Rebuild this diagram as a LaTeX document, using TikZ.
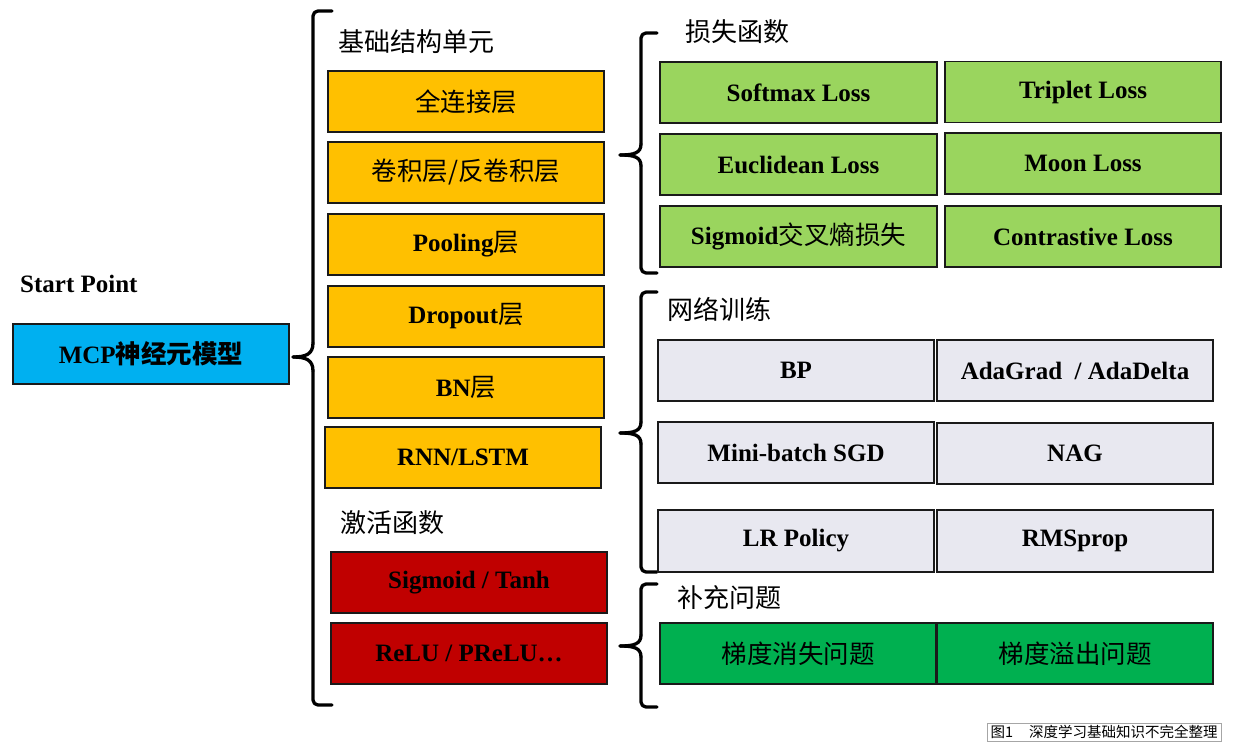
\documentclass[tikz,border=0pt]{standalone}
\usepackage{fontspec}
\setmainfont{Liberation Serif}
\newfontfamily\cjk{Noto Sans CJK SC}
\usetikzlibrary{positioning}
\definecolor{cblue}{HTML}{00B0F0}
\definecolor{cyellow}{HTML}{FFC000}
\definecolor{cred}{HTML}{C00000}
\definecolor{clgreen}{HTML}{9AD55E}
\definecolor{cgrey}{HTML}{E8E8F0}
\definecolor{cdgreen}{HTML}{00B050}
\definecolor{cborder}{HTML}{1A1A1A}
\tikzset{
  box/.style={draw=cborder, line width=1.5pt, minimum width=276pt, minimum height=61pt,
    inner sep=0pt, font=\fontsize{25}{29}\selectfont\bfseries},
  cnbox/.style={box, font=\fontsize{25.5}{29}\selectfont\cjk},
  lbl/.style={anchor=west, inner sep=0pt, font=\fontsize{26}{30}\selectfont\cjk},
  bracket/.style={line width=3.3pt, line cap=round, line join=round},
}
\newcommand{\zh}[1]{{\cjk\mdseries\fontsize{25.5}{29}\selectfont #1}}
\begin{document}
\begin{tikzpicture}[x=1pt,y=-1pt]
\useasboundingbox (0,0) rectangle (1233,749);
% start
\node[anchor=west, inner sep=0pt, font=\fontsize{25}{29}\selectfont\bfseries] (sp) at (20,284) {Start Point};
\node[box, fill=cblue, minimum height=60pt] (mcp) at (151,354) {MCP{\cjk\fontsize{25.5}{29}\selectfont 神经元模型}};
% left bracket
\coordinate (b1tip) at (293,357);
\draw[bracket, rounded corners=5pt] (332,11) -- (313,11) -- (313,343);
\draw[bracket] (313,343) .. controls (313,354) and (306,357) .. (b1tip);
\draw[bracket, rounded corners=5pt] (332,705) -- (313,705) -- (313,371);
\draw[bracket] (313,371) .. controls (313,360) and (306,357) .. (b1tip);
% section 1
\node[lbl] (l1) at (338,42) {基础结构单元};
\node[cnbox, fill=cyellow] (y1) at (466,101.5) {全连接层};
\node[cnbox, fill=cyellow] (y2) at (466,172.5) {卷积层/反卷积层};
\node[box, fill=cyellow] (y3) at (466,244.5) {Pooling\zh{层}};
\node[box, fill=cyellow] (y4) at (466,316.5) {Dropout\zh{层}};
\node[box, fill=cyellow] (y5) at (466,387.5) {BN\zh{层}};
\node[box, fill=cyellow] (y6) at (463,457.5) {RNN/LSTM};
\node[lbl] (l2) at (340,523) {激活函数};
\node[box, fill=cred] (r1) at (469,582.5) {Sigmoid / Tanh};
\node[box, fill=cred] (r2) at (469,653.5) {ReLU / PReLU…};
% brackets on right
\coordinate (b2tip) at (620,155);
\draw[bracket, rounded corners=5pt] (657,33) -- (641,33) -- (641,144);
\draw[bracket] (641,144) .. controls (641,153) and (634,155) .. (b2tip);
\draw[bracket, rounded corners=5pt] (657,273) -- (641,273) -- (641,166);
\draw[bracket] (641,166) .. controls (641,157) and (634,155) .. (b2tip);
\coordinate (b3tip) at (620,433);
\draw[bracket, rounded corners=5pt] (657,292) -- (641,292) -- (641,422);
\draw[bracket] (641,422) .. controls (641,431) and (634,433) .. (b3tip);
\draw[bracket, rounded corners=5pt] (657,572) -- (641,572) -- (641,444);
\draw[bracket] (641,444) .. controls (641,435) and (634,433) .. (b3tip);
\coordinate (b4tip) at (620,646);
\draw[bracket, rounded corners=5pt] (657,584) -- (641,584) -- (641,635);
\draw[bracket] (641,635) .. controls (641,644) and (634,646) .. (b4tip);
\draw[bracket, rounded corners=5pt] (657,707) -- (641,707) -- (641,657);
\draw[bracket] (641,657) .. controls (641,648) and (634,646) .. (b4tip);
% loss
\node[lbl] (l3) at (685,32) {损失函数};
\node[box, fill=clgreen, minimum width=277pt] (g1) at (798.5,92.5) {Softmax Loss};
\node[box, fill=clgreen] (g2) at (1083,92) {Triplet Loss};
\node[box, fill=clgreen, minimum width=277pt] (g3) at (798.5,164.5) {Euclidean Loss};
\node[box, fill=clgreen] (g4) at (1083,163.5) {Moon Loss};
\node[box, fill=clgreen, minimum width=277pt] (g5) at (798.5,236.5) {Sigmoid\zh{交叉熵损失}};
\node[box, fill=clgreen] (g6) at (1083,236.5) {Contrastive Loss};
% training
\node[lbl] (l4) at (667,309) {网络训练};
\node[box, fill=cgrey] (t1) at (796,370.5) {BP};
\node[box, fill=cgrey] (t2) at (1075,370.5) {AdaGrad \ / AdaDelta};
\node[box, fill=cgrey] (t3) at (796,452.5) {Mini-batch SGD};
\node[box, fill=cgrey] (t4) at (1075,453.5) {NAG};
\node[box, fill=cgrey, minimum height=62pt] (t5) at (796,541) {LR Policy};
\node[box, fill=cgrey, minimum height=62pt] (t6) at (1075,541) {RMSprop};
% problems
\node[lbl] (l5) at (677,598) {补充问题};
\node[cnbox, fill=cdgreen] (p1) at (798,653.5) {梯度消失问题};
\node[cnbox, fill=cdgreen] (p2) at (1075,653.5) {梯度溢出问题};
% caption
\node[draw=black!35, line width=0.6pt, inner xsep=2pt, inner ysep=0pt, minimum width=234pt, minimum height=18pt,
  font=\fontsize{14.5}{16}\selectfont\cjk] (cap) at (1104,732) {图1\hspace{1.1em}深度学习基础知识不完全整理};
\end{tikzpicture}
\end{document}
